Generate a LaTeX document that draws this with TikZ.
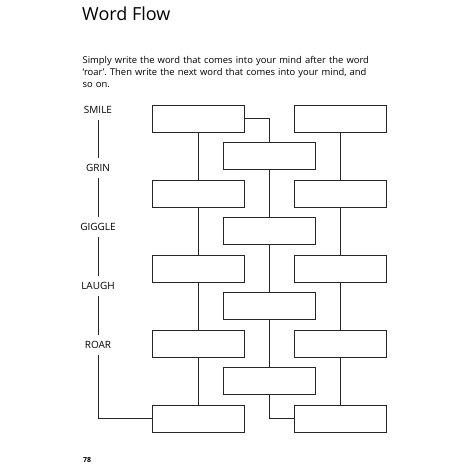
\documentclass[tikz,border=0pt]{standalone}
\usepackage{fontspec}
\setmainfont{Open Sans}
\usetikzlibrary{positioning}

\tikzset{
  wordbox/.style={draw=black!85, line width=0.8pt, minimum width=92pt, minimum height=27.5pt, inner sep=0pt},
  flowline/.style={draw=black!85, line width=0.8pt},
  cue/.style={font=\fontsize{10}{12}\selectfont, inner sep=6pt},
}

\begin{document}
\frenchspacing
\begin{tikzpicture}[x=1pt,y=-1pt]
\useasboundingbox (0,0) rectangle (464,464);
% heading and instructions
\node[font=\fontsize{18}{22}\selectfont, anchor=base west, inner sep=0pt] (title) at (82,20) {Word Flow};
\node[font=\fontsize{9.4}{12.3}\selectfont, anchor=base west, inner sep=0pt, text width=292pt, align=left] (intro) at (82.5,63.3)
  {Simply write the word that comes into your mind after the word `roar'. Then write the next word that comes into your mind, and so on.};
\node[font=\bfseries\fontsize{7}{8}\selectfont, anchor=base west, inner sep=0pt] (page) at (83,462) {78};
% cue words
\node[cue] (w1) at (98,110) {SMILE};
\node[cue] (w2) at (98,168) {GRIN};
\node[cue] (w3) at (98,227) {GIGGLE};
\node[cue] (w4) at (98,286) {LAUGH};
\node[cue] (w5) at (98,345) {ROAR};
% boxes
\foreach \k in {1,...,5} {
  \node[wordbox] (L\k) at (198,{118.75+75*(\k-1)}) {};
  \node[wordbox] (R\k) at (340,{118.75+75*(\k-1)}) {};
}
\foreach \k in {1,...,4}
  \node[wordbox] (M\k) at (269.5,{156+75*(\k-1)}) {};
% links
\foreach \a/\b in {1/2,2/3,3/4,4/5} {
  \draw[flowline] (L\a) -- (L\b);
  \draw[flowline] (R\a) -- (R\b);
  \draw[flowline] (w\a) -- (w\b);
}
\foreach \a/\b in {1/2,2/3,3/4}
  \draw[flowline] (M\a) -- (M\b);
\draw[flowline] (L1.east) -| (M1.north);
\draw[flowline] (M4.south) |- (R5.west);
\draw[flowline] (w5.south) |- (L5.west);
\end{tikzpicture}
\end{document}
